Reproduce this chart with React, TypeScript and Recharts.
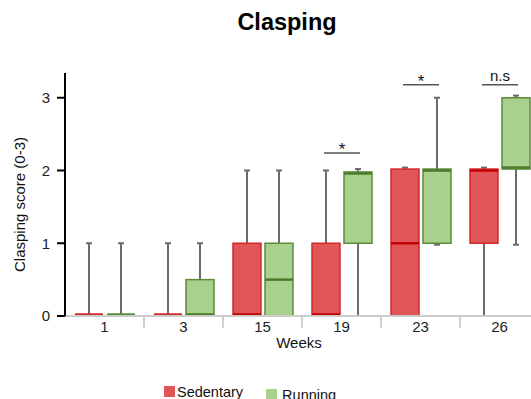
import { ComposedChart, Bar, XAxis, YAxis, Legend, Label } from "recharts";

// box-plot stats per week
const weeks = ["1", "3", "15", "19", "23", "26"];

const sedMin = [0, 0, 0, 0, 0, 0];
const sedQ1 = [0, 0, 0, 0, 0, 1];
const sedMedian = [0, 0, 0, 0, 1, 2];
const sedQ3 = [0, 0, 1, 1, 2.02, 2.02];
const sedMax = [1, 1, 2, 2, 2.04, 2.04];

const runMin = [0, 0, 0, 0, 0.98, 0.98];
const runQ1 = [0, 0, 0, 1, 1, 2.02];
const runMedian = [0, 0, 0.5, 2, 2, 2];
const runQ3 = [0, 0.5, 1, 1.98, 2.02, 3];
const runMax = [1, 1, 2, 2.02, 3, 3.03];

const sigLevel = [null, null, null, 2.24, 3.18, 3.18];
const sigLabel = ["", "", "", "*", "*", "n.s"];

const yTicks = [0, 1, 2, 3];
const seriesOrder = ["Sedentary", "Running"];

const FONT = '"Liberation Sans", Arial, Helvetica, sans-serif';
const PLOT_TOP = 73;
const PLOT_BOTTOM = 316;
const PLOT_LEFT = 65;
const PLOT_WIDTH = 474;
const BAND = PLOT_WIDTH / weeks.length;

const COLORS: Record<string, { fill: string; stroke: string; median: string }> = {
  sed: { fill: "#e05558", stroke: "#d02a2a", median: "#c40000" },
  run: { fill: "#a9d18e", stroke: "#5b8c3a", median: "#4a7a2a" },
};

interface Stats {
  min: number;
  q1: number;
  median: number;
  q3: number;
  max: number;
}

const rows = weeks.map((week, i) => ({
  week,
  sed: { min: sedMin[i], q1: sedQ1[i], median: sedMedian[i], q3: sedQ3[i], max: sedMax[i] },
  run: { min: runMin[i], q1: runQ1[i], median: runMedian[i], q3: runQ3[i], max: runMax[i] },
  sig: sigLevel[i],
  sigText: sigLabel[i],
}));

function BoxShape(props: any) {
  const { x, y, width, height, payload, group, barGap } = props;
  const s: Stats = payload[group];
  const c = COLORS[group];
  const top = Math.min(y, y + height);
  const bottom = Math.max(y, y + height);
  const span = s.max - s.min;
  const py = (v: number) => bottom - ((v - s.min) / span) * (bottom - top);
  const cx = x + width / 2;
  const capW = 6;
  const boxTop = py(s.q3);
  const boxBottom = py(s.q1);
  const hasBox = s.q3 > s.q1;
  const medY = hasBox
    ? Math.min(Math.max(py(s.median), boxTop + 1.5), boxBottom - 1.5)
    : py(s.median) - 1.5;

  let sig = null;
  if (group === "run" && payload.sig != null) {
    const sedCx = x - barGap - width / 2;
    const mid = (sedCx + cx) / 2;
    const ly = py(payload.sig);
    const isStar = payload.sigText === "*";
    sig = (
      <g>
        <line x1={mid - 18} x2={mid + 18} y1={ly} y2={ly} stroke="#555" strokeWidth={1.5} />
        <text
          x={mid}
          y={isStar ? ly + 2 : ly - 4}
          textAnchor="middle"
          fontSize={isStar ? 17 : 15}
          fill="#111"
        >
          {payload.sigText}
        </text>
      </g>
    );
  }

  return (
    <g>
      <line x1={cx} x2={cx} y1={py(s.max)} y2={py(s.min)} stroke="#6b6b6b" strokeWidth={2} />
      <line x1={cx - capW / 2} x2={cx + capW / 2} y1={py(s.max)} y2={py(s.max)} stroke="#6b6b6b" strokeWidth={2} />
      <line x1={cx - capW / 2} x2={cx + capW / 2} y1={py(s.min)} y2={py(s.min)} stroke="#6b6b6b" strokeWidth={2} />
      {hasBox && (
        <rect
          x={x}
          y={boxTop}
          width={width}
          height={boxBottom - boxTop}
          fill={c.fill}
          stroke={c.stroke}
          strokeWidth={1.5}
        />
      )}
      <line
        x1={x}
        x2={x + width}
        y1={medY}
        y2={medY}
        stroke={hasBox ? c.median : c.stroke}
        strokeWidth={2.5}
      />
      {sig}
    </g>
  );
}

function WeekTick(props: any) {
  const { x, payload, index } = props;
  const sepX = x - BAND / 2;
  return (
    <g>
      {index > 0 && (
        <line x1={sepX} x2={sepX} y1={PLOT_BOTTOM + 1} y2={PLOT_BOTTOM + 12} stroke="#cfcfcf" strokeWidth={2} />
      )}
      <text x={x} y={PLOT_BOTTOM + 16} textAnchor="middle" fontSize={15} fill="#222">
        {payload.value}
      </text>
    </g>
  );
}

function LegendContent(props: any) {
  const items = [...(props.payload ?? [])].sort(
    (a: any, b: any) => seriesOrder.indexOf(a.value) - seriesOrder.indexOf(b.value),
  );
  return (
    <div style={{ display: "flex", alignItems: "flex-start", fontSize: 14.5, color: "#111", fontFamily: FONT }}>
      {items.map((entry: any, i: number) => (
        <div
          key={entry.value}
          style={{
            display: "flex",
            alignItems: "flex-start",
            marginLeft: i === 0 ? 0 : 23,
            marginTop: i === 0 ? 0 : 2.5,
          }}
        >
          <span
            style={{
              display: "inline-block",
              width: 11,
              height: 11,
              background: entry.color,
              marginTop: 2,
            }}
          />
          <span style={{ marginLeft: i === 0 ? 2 : 5 }}>{entry.value}</span>
        </div>
      ))}
    </div>
  );
}

export default function App() {
  return (
    <div
      style={{
        position: "fixed",
        left: 0,
        top: 0,
        width: 531,
        height: 399,
        overflow: "hidden",
        background: "#fff",
        fontFamily: FONT,
      }}
    >
      <div
        style={{
          position: "absolute",
          left: 0,
          top: 11,
          width: 574,
          textAlign: "center",
          fontSize: 23.5,
          lineHeight: "23.5px",
          fontWeight: 700,
          color: "#000",
        }}
      >
        Clasping
      </div>
      <ComposedChart
        width={PLOT_LEFT + PLOT_WIDTH + 6}
        height={399}
        data={rows}
        margin={{ top: PLOT_TOP, right: 6, bottom: 399 - PLOT_BOTTOM - 30, left: 0 }}
        barGap={4}
      >
        <XAxis
          dataKey="week"
          height={30}
          stroke="#cccccc"
          strokeWidth={2}
          tickLine={false}
          interval={0}
          tick={<WeekTick />}
        >
          <Label
            content={(p: any) => (
              <text
                x={p.viewBox.x + p.viewBox.width / 2 - 3}
                y={348}
                textAnchor="middle"
                fontSize={15}
                fill="#111"
              >
                Weeks
              </text>
            )}
          />
        </XAxis>
        <YAxis
          type="number"
          domain={[0, 3.34]}
          ticks={yTicks}
          allowDataOverflow
          width={PLOT_LEFT}
          stroke="#000"
          strokeWidth={2}
          tickSize={8}
          tickMargin={7}
          tick={{ fill: "#222", fontSize: 15 }}
        >
          <Label
            content={(p: any) => {
              const cx = p.viewBox.x + 19;
              const cy = p.viewBox.y + p.viewBox.height / 2 + 10;
              return (
                <text
                  x={cx}
                  y={cy}
                  textAnchor="middle"
                  dominantBaseline="central"
                  fontSize={15}
                  fill="#111"
                  transform={`rotate(-90, ${cx}, ${cy})`}
                >
                  Clasping score (0-3)
                </text>
              );
            }}
          />
        </YAxis>
        <Legend
          layout="horizontal"
          verticalAlign="middle"
          align="center"
          wrapperStyle={{ top: 384, left: 164, width: 300 }}
          content={<LegendContent />}
        />
        <Bar
          name="Sedentary"
          dataKey={(d: any) => [d.sed.min, d.sed.max]}
          fill={COLORS.sed.fill}
          barSize={28}
          isAnimationActive={false}
          shape={(p: any) => <BoxShape {...p} group="sed" barGap={4} />}
        />
        <Bar
          name="Running"
          dataKey={(d: any) => [d.run.min, d.run.max]}
          fill={COLORS.run.fill}
          barSize={28}
          isAnimationActive={false}
          shape={(p: any) => <BoxShape {...p} group="run" barGap={4} />}
        />
      </ComposedChart>
    </div>
  );
}
